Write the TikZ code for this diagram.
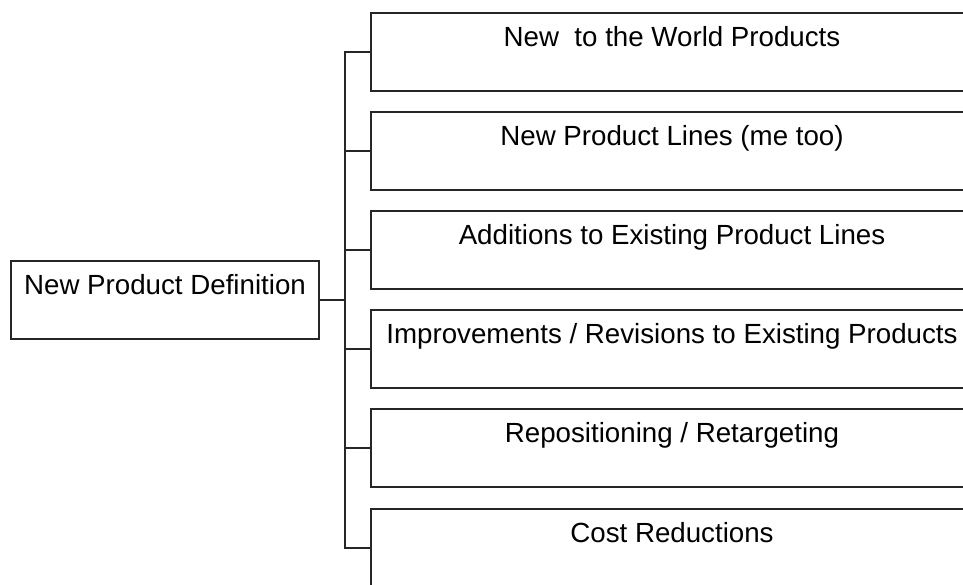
\documentclass[tikz,border=0pt]{standalone}
\usepackage{fontspec}
\setmainfont{Liberation Sans}
\usetikzlibrary{calc}

\tikzset{
	blk/.style = {draw = black!85, line width = 0.6pt, rectangle, inner sep = 0pt,
		minimum height = 39pt, text height = 10pt, text depth = 16pt, align = center},
	wire/.style = {draw = black!85, line width = 0.6pt}
}

\begin{document}
\begin{tikzpicture}[x = 0.5pt, y = -0.5pt, font = {\fontsize{13.85pt}{16pt}\selectfont}]
\useasboundingbox (0,0) rectangle (963,584);
\clip (0,0) rectangle (963,584);

\node[blk, minimum width = 154pt] (DEF) at (165, 300) {New Product Definition};

\node[blk, minimum width = 301pt] (WORLD) at (672, 52) {New~~to the World Products};
\node[blk, minimum width = 301pt] (LINES) at (672, 151) {New Product Lines (me too)};
\node[blk, minimum width = 301pt] (ADD) at (672, 250) {Additions to Existing Product Lines};
\node[blk, minimum width = 301pt] (IMPR) at (672, 349) {Improvements / Revisions to Existing Products};
\node[blk, minimum width = 301pt] (REPOS) at (672, 448) {Repositioning / Retargeting};
\node[blk, minimum width = 301pt] (COST) at (672, 548) {Cost Reductions};

\coordinate (BUS) at (345, 300);

\draw[wire] (DEF.east) -- (BUS);
\foreach \b in {WORLD, LINES, ADD, IMPR, REPOS, COST}
	\draw[wire] (BUS) |- (\b.west);
\end{tikzpicture}
\end{document}
